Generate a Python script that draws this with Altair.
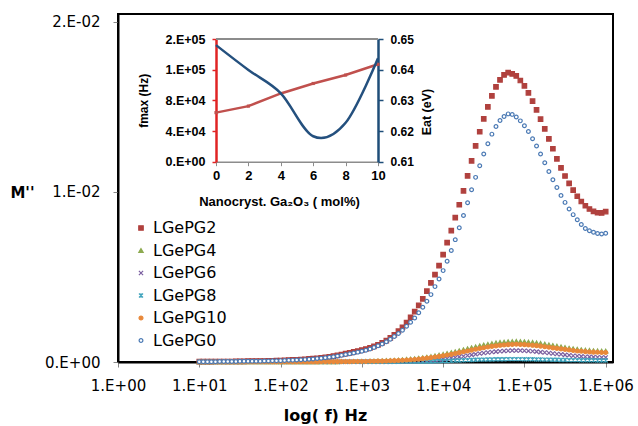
import altair as alt
import pandas as pd

# ---------------- main chart data ----------------
# frequency grid: 20 points per decade from 1e1 to 1e6
MANTISSA = [1.00, 1.12, 1.26, 1.41, 1.58, 1.78, 2.00, 2.24, 2.51, 2.82,
            3.16, 3.55, 3.98, 4.47, 5.01, 5.62, 6.31, 7.08, 7.94, 8.91]
DECADES = [1e1, 1e2, 1e3, 1e4, 1e5]
FREQ = [m * d for d in DECADES for m in MANTISSA] + [1e6]

SERIES = ["LGePG2", "LGePG4", "LGePG6", "LGePG8", "LGePG10", "LGePG0"]

# M'' values, in units of 1e-5
LGEPG2 = [2, 2, 2, 2, 3, 3, 3, 3, 3, 4,
          4, 4, 5, 5, 5, 6, 6, 7, 7, 8,
          9, 10, 11, 12, 13, 14, 16, 18, 20, 22,
          25, 28, 31, 35, 39, 44, 49, 54, 59, 64,
          70, 76, 83, 92, 101, 113, 126, 142, 160, 181,
          204, 232, 263, 296, 333, 371, 416, 465, 513, 566,
          631, 701, 772, 848, 924, 1006, 1094, 1182, 1270, 1353,
          1429, 1499, 1564, 1617, 1658, 1687, 1700, 1693, 1681, 1654,
          1623, 1582, 1533, 1482, 1427, 1370, 1311, 1253, 1194, 1141,
          1093, 1050, 1010, 974, 943, 918, 899, 885, 877, 876, 884]
LGEPG4 = [1, 1, 1, 1, 1, 1, 1, 1, 1, 1,
          1, 1, 1, 1, 1, 1, 1, 1, 1, 1,
          1, 1, 1, 1, 1, 2, 2, 2, 2, 2,
          2, 2, 2, 2, 2, 3, 3, 3, 3, 3,
          4, 4, 5, 5, 6, 7, 8, 9, 10, 11,
          13, 15, 17, 19, 22, 25, 28, 32, 36, 40,
          45, 50, 55, 60, 66, 72, 78, 84, 89, 95,
          100, 104, 108, 112, 115, 117, 119, 120, 121, 120,
          119, 117, 115, 112, 109, 105, 101, 97, 93, 89,
          85, 81, 78, 75, 72, 70, 68, 66, 65, 64, 64]
LGEPG6 = [1, 1, 1, 1, 1, 1, 1, 1, 1, 1,
          1, 1, 1, 1, 1, 1, 1, 1, 1, 1,
          1, 1, 1, 1, 1, 1, 1, 1, 1, 1,
          1, 1, 1, 1, 1, 1, 1, 1, 1, 1,
          2, 2, 2, 2, 2, 2, 2, 2, 3, 3,
          3, 3, 4, 5, 6, 7, 8, 10, 12, 14,
          17, 20, 23, 26, 30, 34, 38, 42, 46, 50,
          53, 56, 59, 61, 63, 65, 66, 67, 67, 67,
          66, 65, 63, 61, 58, 56, 53, 50, 47, 45,
          42, 40, 37, 35, 33, 31, 30, 29, 28, 27, 27]
LGEPG8 = [1, 1, 1, 1, 1, 1, 1, 1, 1, 1,
          1, 1, 1, 1, 1, 1, 1, 1, 1, 1,
          1, 1, 1, 1, 1, 1, 1, 1, 1, 1,
          1, 1, 1, 1, 1, 1, 1, 1, 1, 1,
          1, 1, 1, 1, 1, 1, 1, 1, 1, 1,
          2, 2, 2, 2, 2, 2, 3, 3, 4, 5,
          6, 6, 7, 8, 9, 10, 11, 12, 13, 14,
          14, 15, 15, 16, 16, 16, 17, 17, 17, 17,
          16, 16, 16, 15, 15, 14, 14, 13, 13, 12,
          12, 11, 11, 11, 10, 10, 10, 10, 9, 9, 9]
LGEPG10 = [1, 1, 1, 1, 1, 1, 1, 1, 1, 1,
           1, 1, 1, 1, 1, 1, 1, 1, 1, 1,
           1, 1, 1, 1, 1, 1, 1, 1, 1, 1,
           2, 2, 2, 2, 2, 2, 2, 2, 3, 3,
           3, 3, 4, 4, 5, 5, 6, 7, 8, 9,
           10, 12, 13, 15, 17, 20, 23, 26, 29, 33,
           37, 41, 45, 50, 55, 60, 65, 70, 75, 80,
           84, 88, 92, 95, 98, 100, 102, 103, 104, 103,
           102, 100, 98, 96, 93, 90, 87, 83, 80, 77,
           74, 71, 68, 65, 63, 61, 59, 58, 57, 56, 56]
LGEPG0 = [2, 2, 2, 2, 2, 3, 3, 3, 3, 3,
          4, 4, 4, 5, 5, 5, 6, 6, 7, 7,
          8, 9, 10, 11, 12, 13, 14, 16, 18, 20,
          22, 25, 28, 31, 35, 39, 44, 48, 53, 58,
          63, 69, 76, 85, 95, 106, 119, 134, 150, 167,
          187, 210, 234, 259, 289, 322, 357, 396, 443, 488,
          537, 592, 655, 719, 789, 861, 936, 1012, 1085, 1153,
          1222, 1282, 1339, 1384, 1419, 1443, 1458, 1455, 1440, 1417,
          1388, 1354, 1312, 1269, 1222, 1171, 1120, 1071, 1026, 979,
          938, 899, 866, 836, 808, 785, 771, 762, 755, 752, 757]
SERIES_VALUES = [LGEPG2, LGEPG4, LGEPG6, LGEPG8, LGEPG10, LGEPG0]

FILLS = ["#B0413E", "#8DAA50", "#7B5FA0", "#3FA3BC", "#E8883A", "#FFFFFF"]
STROKES = ["#B0413E", "#8DAA50", "#7B5FA0", "#3FA3BC", "#E8883A", "#4A79B4"]
SHAPES = ["square", "triangle-up", "M-1,-1L1,1M-1,1L1,-1",
          "M-1,-1L1,1M-1,1L1,-1M0,-1.1L0,1.1", "circle", "circle"]
SIZES = [20, 14, 22, 24, 26, 18]

X_TICKS = [1, 10, 100, 1000, 10000, 100000, 1000000]
X_LABELS = ["1.E+00", "1.E+01", "1.E+02", "1.E+03", "1.E+04", "1.E+05", "1.E+06"]
Y_TICKS = [0, 0.01, 0.02]
Y_LABELS = ["0.E+00", "1.E-02", "2.E-02"]

# ---------------- inset data ----------------
MOL = [0, 2, 4, 6, 8, 10]
FMAX = [64000, 72500, 89000, 102000, 113000, 127000]
EAT = [0.6480, 0.6399, 0.6323, 0.6183, 0.6227, 0.6437]
IN_X_TICKS = [0, 2, 4, 6, 8, 10]
FMAX_TICKS = [0, 40000, 80000, 120000, 160000]
FMAX_LABELS = ["0.E+00", "4.E+04", "8.E+04", "1.E+05", "2.E+05"]
EAT_TICKS = [0.61, 0.62, 0.63, 0.64, 0.65]


def label_expr(values, labels):
    arr_l = "[" + ",".join("'" + s + "'" for s in labels) + "]"
    arr_v = "[" + ",".join(repr(v) for v in values) + "]"
    return arr_l + "[indexof(" + arr_v + ", datum.value)]"


rows = []
for name, vals in zip(SERIES, SERIES_VALUES):
    for f, v in zip(FREQ, vals):
        rows.append({"series": name, "f": f, "m": v * 1e-5})
df = pd.DataFrame(rows)

inset_df = pd.DataFrame({"mol": MOL, "fmax": FMAX, "eat": EAT})

W, H = 495, 348
MAIN_FONT = "DejaVu Sans"
IN_FONT = "Liberation Sans, Arial, DejaVu Sans"

legend = alt.Legend(
    orient="none", legendX=15, legendY=206, title=None,
    labelFont=MAIN_FONT, labelFontSize=16, labelColor="black",
    rowPadding=6.5, labelOffset=4, padding=0, symbolStrokeWidth=1.2,
)

main = alt.Chart(df).mark_point(filled=True, opacity=1, strokeWidth=1.2).encode(
    x=alt.X("f:Q",
            scale=alt.Scale(type="log", domain=[1, 1.23e6], nice=False),
            axis=alt.Axis(orient="bottom", values=X_TICKS,
                          labelExpr=label_expr(X_TICKS, X_LABELS),
                          title="log( f) Hz", grid=False,
                          domainColor="black", domainWidth=2,
                          tickColor="#888888", tickSize=5, labelPadding=11,
                          labelFont=MAIN_FONT, labelFontSize=15, labelColor="black",
                          labelFlush=False, labelOverlap=False,
                          titleFont=MAIN_FONT, titleFontSize=16, titleFontWeight="bold",
                          titleColor="black",
                          titleX=207, titleY=53, titleAlign="center",
                          titleBaseline="middle")),
    y=alt.Y("m:Q",
            scale=alt.Scale(domain=[0, 0.02045], nice=False, zero=False),
            axis=alt.Axis(orient="left", values=Y_TICKS,
                          labelExpr=label_expr(Y_TICKS, Y_LABELS),
                          title="M''", grid=False,
                          domainColor="black", domainWidth=2,
                          tickColor="#888888", tickSize=5, labelPadding=13,
                          labelFont=MAIN_FONT, labelFontSize=15, labelColor="black",
                          labelFlush=False, labelOverlap=False,
                          titleFont=MAIN_FONT, titleFontSize=15, titleFontWeight="bold",
                          titleColor="black", titleAngle=0,
                          titleX=-96, titleY=178, titleAlign="center",
                          titleBaseline="middle")),
    fill=alt.Fill("series:N", scale=alt.Scale(domain=SERIES, range=FILLS), legend=legend),
    stroke=alt.Stroke("series:N", scale=alt.Scale(domain=SERIES, range=STROKES), legend=legend),
    shape=alt.Shape("series:N", scale=alt.Scale(domain=SERIES, range=SHAPES), legend=legend),
    size=alt.Size("series:N", scale=alt.Scale(domain=SERIES, range=SIZES), legend=legend),
)

IN_X_RANGE = [98, 260]
IN_Y_RANGE = [147.7, 25]
RED_LINE = "#C0504D"
RED_AXIS = "#E02424"
BLUE_LINE = "#24507E"
BLUE_AXIS = "#1F4E79"
GRAY = "#8C8C8C"

fmax_line = alt.Chart(inset_df).mark_line(
    color=RED_LINE, strokeWidth=2.5,
    point=alt.OverlayMarkDef(filled=True, size=10, color=RED_LINE, shape="square", opacity=1),
).encode(
    x=alt.X("mol:Q",
            scale=alt.Scale(domain=[0, 10], range=IN_X_RANGE, nice=False, zero=False),
            axis=alt.Axis(orient="bottom", offset=-200.3, values=IN_X_TICKS, format="d",
                          grid=False, domainColor=GRAY, domainWidth=1.5,
                          tickColor=GRAY, tickSize=4, labelPadding=4,
                          labelFont=IN_FONT, labelFontSize=13, labelFontWeight="bold",
                          labelColor="black", labelFlush=False, labelOverlap=False,
                          title="Nanocryst. Ga\u2082O\u2083 ( mol%)",
                          titleFont=IN_FONT, titleFontSize=13, titleFontWeight="bold",
                          titleColor="black", titleX=161, titleY=40,
                          titleAlign="center", titleBaseline="middle")),
    y=alt.Y("fmax:Q",
            scale=alt.Scale(domain=[0, 160000], range=IN_Y_RANGE, nice=False, zero=False),
            axis=alt.Axis(orient="left", offset=-98, values=FMAX_TICKS,
                          labelExpr=label_expr(FMAX_TICKS, FMAX_LABELS),
                          grid=False, domainColor=RED_AXIS, domainWidth=2.5,
                          tickColor=RED_AXIS, tickSize=4, tickWidth=1.5, labelPadding=7,
                          labelFont=IN_FONT, labelFontSize=12.5, labelFontWeight="bold",
                          labelColor="black", labelFlush=False, labelOverlap=False,
                          title="fmax (Hz)", titleFont=IN_FONT, titleFontSize=12,
                          titleFontWeight="bold", titleColor="black",
                          titleAngle=270, titleX=-73, titleY=86.3,
                          titleAlign="center", titleBaseline="middle")),
)

eat_line = alt.Chart(inset_df).mark_line(
    color=BLUE_LINE, strokeWidth=2.5, interpolate="cardinal",
).encode(
    x=alt.X("mol:Q",
            scale=alt.Scale(domain=[0, 10], range=IN_X_RANGE, nice=False, zero=False),
            axis=None),
    y=alt.Y("eat:Q",
            scale=alt.Scale(domain=[0.61, 0.65], range=IN_Y_RANGE, nice=False, zero=False),
            axis=alt.Axis(orient="right", offset=-235, values=EAT_TICKS, format=".2f",
                          grid=False, domainColor=BLUE_AXIS, domainWidth=2.5,
                          tickColor=BLUE_AXIS, tickSize=5, tickWidth=1.5, labelPadding=7,
                          labelFont=IN_FONT, labelFontSize=12, labelFontWeight="bold",
                          labelColor="black", labelFlush=False, labelOverlap=False,
                          title="Eat (eV)", titleFont=IN_FONT, titleFontSize=12.5,
                          titleFontWeight="bold", titleColor="black",
                          titleAngle=270, titleX=48, titleY=97.6,
                          titleAlign="center", titleBaseline="middle")),
)

border = alt.Chart(inset_df).mark_rule(color=GRAY, strokeWidth=1.5).encode(
    x=alt.XDatum(0, type="quantitative",
                 scale=alt.Scale(domain=[0, 10], range=IN_X_RANGE, nice=False, zero=False),
                 axis=None),
    x2=alt.X2Datum(10),
    y=alt.YDatum(160000, type="quantitative",
                 scale=alt.Scale(domain=[0, 160000], range=IN_Y_RANGE, nice=False, zero=False),
                 axis=None),
)

chart = alt.layer(main, border, fmax_line, eat_line).resolve_scale(
    x="independent", y="independent"
).properties(
    width=W, height=H,
    autosize=alt.AutoSizeParams(type="none"),
    padding={"left": 118, "top": 14, "right": 25, "bottom": 64},
    background="white",
).configure_view(stroke="black", strokeWidth=2)

chart.save("out.html", embed_options={"renderer": "svg", "actions": False})
